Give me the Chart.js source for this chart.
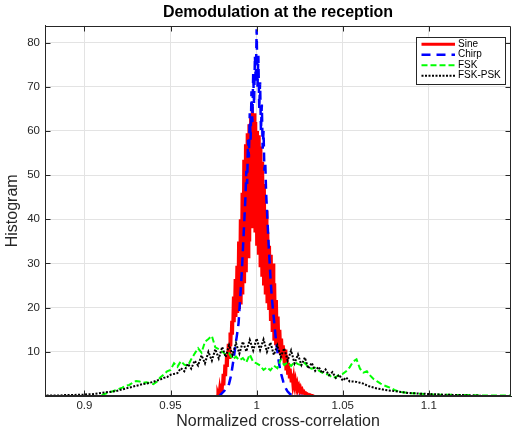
<!DOCTYPE html>
<html>
<head>
<meta charset="utf-8">
<title>Demodulation at the reception</title>
<script src="https://cdn.jsdelivr.net/npm/chart.js@4.4.0/dist/chart.umd.min.js"></script>
<style>
  html, body { margin: 0; padding: 0; background: #fff; }
  #wrap { position: relative; width: 512px; height: 431px; }
</style>
</head>
<body>
<div id="wrap"><canvas id="demod"></canvas></div>
<script>
// histogram bins: centre of the first bin, bin width, counts
var sineStart = 0.9765, sineStep = 0.0005;
var sineCounts = [
    0, 0, 0.6, 0, 1.6, 0, 2.8, 1.1, 5.0, 2.4,
    7.1, 4.5, 9.3, 6.6, 11.8, 8.7, 14.4, 11.3, 17.0, 13.9,
    22.5, 16.7, 26.5, 17.9, 29.5, 18.8, 35, 19.7, 40, 20.7,
    46, 23, 53.5, 25.5, 57, 28, 59.5, 31.5, 61.5, 35,
    63.5, 38, 65.5, 38, 64, 37, 62, 34, 60, 32,
    59, 29.5, 56.5, 27, 53, 25, 48, 23, 42, 21,
    37, 19.5, 34, 17, 32, 14.5, 30, 12.5, 25.5, 11.5,
    21.7, 10.5, 18, 10, 15, 9.5, 13, 8.5, 11.5, 7.3,
    10.5, 5.8, 9.2, 4.8, 7.5, 4.0, 6.2, 3.4, 5.1, 2.8,
    4.2, 2.4, 3.5, 2.0, 2.8, 1.6, 2.2, 1.2, 1.8, 1.0,
    1.4, 0.8, 1.0, 0.6, 0.7, 0.4, 0.5, 0.3, 0.3, 0.15,
    0.2, 0.1, 0.1, 0, 0
];

var chirpStart = 0.978, chirpStep = 0.0005;
var chirpCounts = [
    0, 0, 0.3, 0.5, 0.7, 0.9, 1.1, 1.3, 1.6, 1.8,
    2.0, 2.2, 2.8, 3.6, 4.4, 5.5, 6.8, 8.1, 9.4, 10.9,
    12.3, 13.6, 15, 16.5, 19.5, 22.5, 25.5, 29, 33, 37,
    41, 45, 51, 48, 58, 54, 64, 58, 69, 62,
    73, 66, 77, 71, 83, 70, 77, 65, 71, 60,
    66, 56, 60, 51, 53, 46, 42, 38, 34, 30.5,
    27, 24, 21.5, 19.5, 17.5, 15.5, 13.5, 11.8, 10.2, 8.8,
    7.4, 6.3, 5.4, 4.6, 3.9, 3.2, 2.6, 2.1, 1.7, 1.3,
    1.0, 0.8, 0.6, 0.4, 0.3, 0.2, 0.1, 0, 0, 0,
    0, 0, 0, 0, 0, 0, 0, 0, 0
];

var fskStart = 0.910, fskStep = 0.002;
var fskCounts = [
    0.2, 0.5, 0.8, 1.0, 1.3, 1.6, 1.9, 2.3, 2.5, 3.0,
    3.4, 3.3, 3.0, 3.1, 2.9, 2.7, 3.2, 4.2, 4.8, 5.6,
    5.9, 7.4, 6.6, 7.9, 7.1, 6.8, 8.3, 9.6, 10.8, 9.8,
    12.3, 12.9, 13.6, 11.0, 10.6, 10.0, 9.4, 9.7, 8.3, 8.9,
    8.1, 8.6, 7.6, 9.4, 7.7, 7.4, 6.9, 5.9, 6.5, 5.8,
    6.9, 6.3, 8.3, 7.0, 7.6, 6.8, 7.7, 7.2, 7.0, 7.5,
    6.5, 6.2, 6.4, 5.8, 5.3, 5.0, 4.8, 4.1, 4.3, 4.8,
    5.0, 5.6, 6.5, 7.8, 8.3, 6.2, 5.3, 5.6, 4.6, 3.8,
    3.3, 2.8, 2.4, 2.1, 1.8, 1.4, 1.1, 0.9, 0.8, 0.7,
    0.6, 0.6, 0.5, 0.5, 0.4, 0.4, 0.35, 0.35, 0.3, 0.3,
    0.3, 0.3, 0.25, 0.25, 0.2, 0.2, 0.2, 0.2, 0.15, 0.15,
    0.15, 0.1, 0.1, 0.1, 0.1, 0.1, 0.1, 0.1, 0.1, 0.1,
    0.1
];

var fskpskStart = 0.876, fskpskStep = 0.002;
var fskpskCounts = [
    0.1, 0.1, 0.1, 0.1, 0.1, 0.1, 0.2, 0.2, 0.2, 0.2,
    0.3, 0.3, 0.3, 0.4, 0.4, 0.5, 0.6, 0.7, 0.8, 0.9,
    1.0, 1.1, 1.3, 1.5, 1.7, 1.9, 2.1, 2.3, 2.5, 2.7,
    2.8, 3.0, 3.2, 3.5, 3.7, 4.1, 4.3, 4.8, 5.0, 5.2,
    6.3, 5.6, 7.3, 6.2, 8.0, 6.9, 9.2, 7.4, 10.0, 8.0,
    10.6, 8.5, 11.1, 8.8, 11.5, 9.3, 12.0, 9.6, 12.3, 10.1,
    12.7, 10.3, 13.0, 10.4, 12.8, 10.0, 12.1, 9.3, 11.5, 8.8,
    10.8, 8.0, 10.3, 7.4, 9.4, 7.0, 8.7, 6.2, 7.5, 5.7,
    6.6, 5.2, 6.0, 4.7, 5.4, 4.1, 4.8, 3.5, 4.2, 3.3,
    3.3, 3.2, 3.0, 2.8, 2.4, 2.1, 1.9, 1.7, 1.6, 1.4,
    1.3, 1.2, 1.1, 1.0, 0.9, 0.8, 0.7, 0.65, 0.6, 0.55,
    0.5, 0.5, 0.45, 0.4, 0.4, 0.35, 0.3, 0.3, 0.3, 0.25,
    0.2, 0.2, 0.2, 0.15, 0.1, 0.1, 0.1, 0.1
];

var seriesNames = ['Sine', 'Chirp', 'FSK', 'FSK-PSK'];
var xTicks = [0.9, 0.95, 1, 1.05, 1.1];
var xTickLabels = ['0.9', '0.95', '1', '1.05', '1.1'];
var yTicks = [10, 20, 30, 40, 50, 60, 70, 80];

function toPoints(start, step, counts) {
    return counts.map(function(c, i) {
        return { x: start + i * step, y: c };
    });
}

var axisColor = '#262626';
var fontFamily = '"Liberation Sans", Arial, Helvetica, sans-serif';

// MATLAB style box, inward ticks and legend
var matlabBox = {
    id: 'matlabBox',
    afterDatasetsDraw: function(chart) {
        var a = chart.chartArea, ctx = chart.ctx;
        var xs = chart.scales.x, ys = chart.scales.y;
        var L = Math.round(a.left) + 0.5, R = Math.round(a.right) - 0.5;
        var T = Math.round(a.top) + 0.5, B = Math.round(a.bottom) - 0.5;
        ctx.save();
        ctx.strokeStyle = axisColor;
        ctx.lineWidth = 1;
        ctx.beginPath();
        ctx.moveTo(L, B); ctx.lineTo(L, T); ctx.lineTo(R, T); ctx.lineTo(R, B); ctx.lineTo(L, B);
        xTicks.forEach(function(v) {
            var px = Math.round(xs.getPixelForValue(v)) + 0.5;
            ctx.moveTo(px, B); ctx.lineTo(px, B - 5);
            ctx.moveTo(px, T); ctx.lineTo(px, T + 5);
        });
        yTicks.forEach(function(v) {
            var py = Math.round(ys.getPixelForValue(v)) + 0.5;
            ctx.moveTo(L, py); ctx.lineTo(L + 5, py);
            ctx.moveTo(R, py); ctx.lineTo(R - 5, py);
        });
        ctx.stroke();
        ctx.restore();
    },
    afterDraw: function(chart) {
        var a = chart.chartArea, ctx = chart.ctx;
        var left = a.right - 95, top = a.top + 11, w = 89, h = 47;
        ctx.save();
        ctx.fillStyle = '#fff';
        ctx.fillRect(left, top, w, h);
        ctx.strokeStyle = axisColor;
        ctx.lineWidth = 1;
        ctx.strokeRect(Math.round(left) + 0.5, Math.round(top) + 0.5, w, h);
        ctx.font = '10px ' + fontFamily;
        ctx.textBaseline = 'middle';
        ctx.textAlign = 'left';
        chart.data.datasets.forEach(function(ds, i) {
            var y = top + 7.5 + i * 10.5;
            ctx.strokeStyle = ds.borderColor;
            ctx.lineWidth = ds.borderWidth;
            ctx.setLineDash(ds.borderDash || []);
            ctx.beginPath();
            ctx.moveTo(left + 5.5, y);
            ctx.lineTo(left + 39, y);
            ctx.stroke();
            ctx.setLineDash([]);
            ctx.fillStyle = '#000';
            ctx.fillText(ds.label, left + 42, y);
        });
        ctx.restore();
    }
};

document.addEventListener("DOMContentLoaded", function() {
    var ctx = document.getElementById("demod").getContext("2d");
    var demod = new Chart(ctx, {
        type: 'line',
        data: {
            datasets: [{
                label: seriesNames[0],
                data: toPoints(sineStart, sineStep, sineCounts),
                borderColor: '#ff0000',
                borderWidth: 3,
                order: 4
            }, {
                label: seriesNames[1],
                data: toPoints(chirpStart, chirpStep, chirpCounts),
                borderColor: '#0000ff',
                borderWidth: 2.5,
                borderDash: [9, 6],
                order: 3
            }, {
                label: seriesNames[2],
                data: toPoints(fskStart, fskStep, fskCounts),
                borderColor: '#00ff00',
                borderWidth: 2,
                borderDash: [6, 3],
                order: 2
            }, {
                label: seriesNames[3],
                data: toPoints(fskpskStart, fskpskStep, fskpskCounts),
                borderColor: '#000000',
                borderWidth: 2,
                borderDash: [2, 1.5],
                order: 1
            }]
        },
        options: {
            responsive: true,
            maintainAspectRatio: false,
            animation: false,
            events: [],
            layout: { padding: { left: 0, right: 1, top: 0, bottom: 0 } },
            elements: {
                point: { radius: 0 },
                line: { tension: 0, fill: false }
            },
            datasets: { line: { clip: 0 } },
            plugins: {
                legend: { display: false },
                tooltip: { enabled: false },
                title: {
                    display: true,
                    fullSize: false,
                    text: 'Demodulation at the reception',
                    color: '#000',
                    font: { family: fontFamily, size: 16, weight: 'bold' },
                    padding: { top: 3, bottom: 3.5 }
                }
            },
            scales: {
                x: {
                    type: 'linear',
                    min: 0.8771,
                    max: 1.1477,
                    afterBuildTicks: function(s) {
                        s.ticks = xTicks.map(function(v) { return { value: v }; });
                    },
                    afterFit: function(s) { s.height = 35; },
                    grid: { color: '#e3e3e3', drawTicks: false },
                    border: { display: true, color: axisColor, width: 1 },
                    ticks: {
                        color: axisColor,
                        padding: 3,
                        maxRotation: 0,
                        font: { family: fontFamily, size: 11.5 },
                        callback: function(v, i) { return xTickLabels[i]; }
                    },
                    title: {
                        display: true,
                        text: 'Normalized cross-correlation',
                        color: axisColor,
                        font: { family: fontFamily, size: 16 },
                        padding: { top: 0, bottom: 0 }
                    }
                },
                y: {
                    type: 'linear',
                    min: 0,
                    max: 83.83,
                    afterBuildTicks: function(s) {
                        s.ticks = yTicks.map(function(v) { return { value: v }; });
                    },
                    afterFit: function(s) { s.width = 45; },
                    grid: { color: '#e3e3e3', drawTicks: false },
                    border: { display: true, color: axisColor, width: 1 },
                    ticks: {
                        color: axisColor,
                        padding: 5,
                        font: { family: fontFamily, size: 11.5 }
                    },
                    title: {
                        display: true,
                        text: 'Histogram',
                        color: axisColor,
                        font: { family: fontFamily, size: 16 },
                        padding: { top: 3, bottom: 0 }
                    }
                }
            }
        },
        plugins: [matlabBox]
    });
});
</script>
</body>
</html>
